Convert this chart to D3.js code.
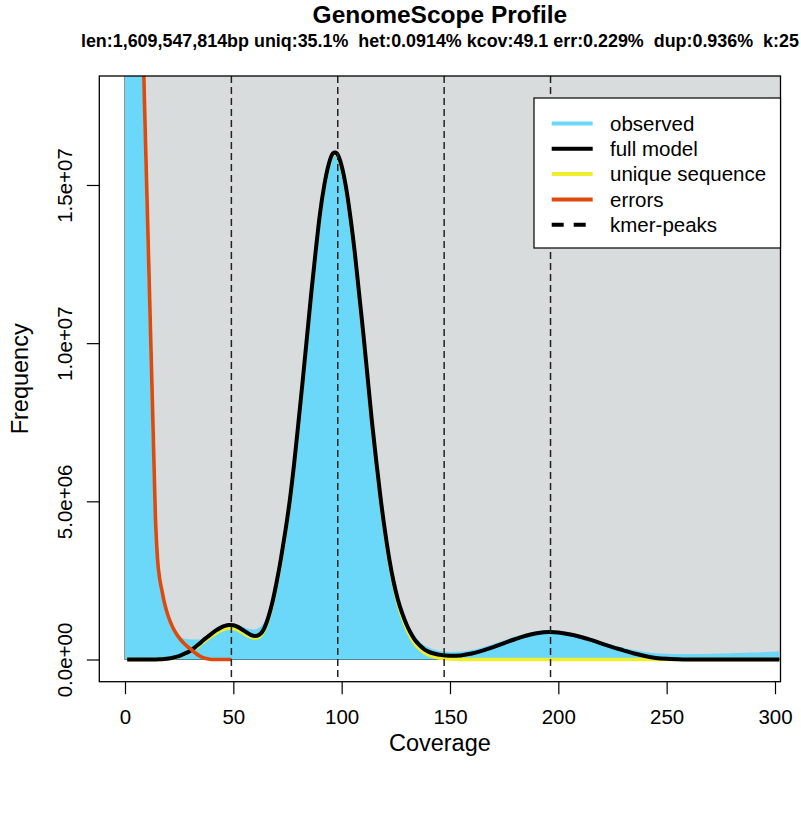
<!DOCTYPE html>
<html><head><meta charset="utf-8">
<script src="https://cdn.jsdelivr.net/npm/d3@7"></script>
<style>
body{margin:0;background:#fff;}
text{font-family:"Liberation Sans",Arial,Helvetica,sans-serif;fill:#000;}
</style></head><body>
<svg id="chart" width="801" height="820"></svg>
<script>
// ---------- data (frequencies in millions of k-mers) ----------
const titleText = "GenomeScope Profile";
const subtitleText = "len:1,609,547,814bp uniq:35.1%  het:0.0914% kcov:49.1 err:0.229%  dup:0.936%  k:25";
const xTicks = [0, 50, 100, 150, 200, 250, 300];
const yTicks = [0, 5, 10, 15];
const yTickLabels = ["0.0e+00", "5.0e+06", "1.0e+07", "1.5e+07"];
const kmerPeaks = [49.1, 98.2, 147.3, 196.4];
const legendLabels = ["observed", "full model", "unique sequence", "errors", "kmer-peaks"];

const obsCov = [0,1,2,3,4,5,6,7,8,9,10,11,12,13,14,15,16,17,18,19,20,22,24,26,28,30,32,34,36,38,40,42,44,46,48,50,52,54,56,58,60,62,64,66,68,70,72,74,76,78,80,82,84,86,88,90,92,94,96,97,98,100,102,104,106,108,110,112,114,116,118,120,122,124,126,128,130,132,134,136,138,140,143,146,150,155,160,165,170,175,180,185,190,196,200,205,210,215,220,225,230,235,240,245,250,255,260,270,280,290,302];
const obsFreq = [300,300,140,75,48,34,26.5,22,18.6,15.9,13.2,10.5,7.9,5.4,3.9,3.0,2.4,2.0,1.7,1.42,1.2,0.9,0.75,0.68,0.65,0.64,0.63,0.63,0.64,0.66,0.7,0.78,0.9,1.02,1.1,1.12,1.09,1.04,0.99,0.96,0.95,1.0,1.15,1.45,1.9,2.5,3.25,4.1,5.05,6.2,7.5,8.85,10.25,11.65,12.95,14.15,15.05,15.7,16.05,16.1,16.02,15.65,14.98,14.05,12.95,11.65,10.35,8.95,7.55,6.3,5.13,4.1,3.22,2.5,1.95,1.55,1.2,0.92,0.72,0.57,0.46,0.39,0.31,0.26,0.24,0.25,0.3,0.38,0.49,0.61,0.72,0.82,0.89,0.93,0.91,0.85,0.77,0.67,0.56,0.46,0.37,0.3,0.24,0.2,0.18,0.17,0.17,0.18,0.2,0.22,0.25];

const modelCov = [1,5,10,14,16,18,20,22,24,26,28,30,32,34,36,38,40,42,44,46,48,50,52,54,56,58,60,62,64,66,68,70,72,74,76,78,80,82,84,86,88,90,92,94,96,97,98,100,102,104,106,108,110,112,114,116,118,120,122,124,126,128,130,132,134,136,138,140,143,146,150,155,160,165,170,175,180,185,190,196,200,205,210,215,220,225,230,235,240,245,250,255,260,270,280,290,302];
const modelFreq = [0,0,0,0,0.005,0.015,0.03,0.055,0.09,0.14,0.2,0.27,0.37,0.48,0.6,0.71,0.82,0.92,1.0,1.06,1.09,1.08,1.03,0.95,0.86,0.78,0.74,0.78,0.95,1.3,1.8,2.45,3.2,4.05,5.0,6.15,7.45,8.8,10.2,11.6,12.9,14.1,15.0,15.65,16.0,16.03,15.98,15.6,14.93,14.0,12.9,11.6,10.3,8.9,7.5,6.25,5.08,4.06,3.17,2.45,1.88,1.45,1.1,0.82,0.6,0.45,0.33,0.25,0.18,0.14,0.12,0.13,0.19,0.28,0.39,0.52,0.64,0.75,0.83,0.87,0.855,0.8,0.72,0.62,0.5,0.39,0.29,0.19,0.11,0.05,0.02,0.006,0,0,0,0,0];
const uniqueFreq = [0,0,0,0,0.004,0.013,0.026,0.048,0.08,0.125,0.18,0.245,0.335,0.435,0.545,0.645,0.745,0.835,0.91,0.965,0.99,0.98,0.935,0.86,0.78,0.71,0.68,0.72,0.89,1.24,1.74,2.39,3.14,4.0,4.95,6.1,7.4,8.75,10.15,11.55,12.85,14.05,14.95,15.6,15.95,15.98,15.93,15.55,14.88,13.95,12.85,11.55,10.25,8.85,7.45,6.2,5.02,4.0,3.1,2.37,1.78,1.33,0.97,0.69,0.48,0.33,0.22,0.15,0.08,0.04,0.015,0.005,0,0,0,0,0,0,0,0,0,0,0,0,0,0,0,0,0,0,0,0,0,0,0,0,0];

const errCov = [1,2,3,4,5,6,7,8,9,10,11,12,13,14,15,16,17,18,19,20,22,24,26,28,30,32,34,36,38,40,45,49.1];
const errFreq = [300,150,90,60,42,31,24.5,20.5,17.6,15.0,12.4,9.8,7.2,4.6,3.2,2.55,2.2,1.85,1.58,1.36,1.02,0.78,0.6,0.46,0.34,0.23,0.13,0.06,0.02,0,0,0];

// ---------- layout ----------
const W = 801, H = 820;
const L = 99.3, R = 780.5, T = 76, B = 681.7;
const colObs = "#6BD7F9", colBg = "#D9DCDC", colUnique = "#EEEE2C", colErr = "#DE4A0C", colModel = "#000";
const font = '"Liberation Sans",Arial,Helvetica,sans-serif';

const xs = d3.scaleLinear().domain([-11.86, 302.54]).range([L, R]);
const ys = d3.scaleLinear().domain([-0.7018, 18.445]).range([B, T]);

const svg = d3.select("#chart");
svg.append("rect").attr("width", W).attr("height", H).attr("fill", "#fff");

svg.append("defs").append("clipPath").attr("id", "clip")
  .append("rect").attr("x", L).attr("y", T).attr("width", R - L).attr("height", B - T);

const g = svg.append("g").attr("clip-path", "url(#clip)");

// background rect starting at (0,0)
g.append("rect")
  .attr("x", xs(0)).attr("y", ys(25))
  .attr("width", xs(400) - xs(0)).attr("height", ys(0) - ys(25))
  .attr("fill", colBg).attr("stroke", "#333").attr("stroke-width", 1);

const obsData = obsCov.map((c, i) => [c, obsFreq[i]]);
g.append("path").datum(obsData)
  .attr("d", d3.area().x(d => xs(d[0])).y0(ys(0)).y1(d => ys(d[1])).curve(d3.curveMonotoneX))
  .attr("fill", colObs);

const lineGen = d3.line().x(d => xs(d[0])).y(d => ys(d[1])).curve(d3.curveMonotoneX);

g.append("path").datum(modelCov.map((c, i) => [c, uniqueFreq[i]]))
  .attr("d", lineGen).attr("fill", "none").attr("stroke", colUnique).attr("stroke-width", 3.6);

g.append("path").datum(modelCov.map((c, i) => [c, modelFreq[i]]))
  .attr("d", lineGen).attr("fill", "none").attr("stroke", colModel).attr("stroke-width", 4);

g.append("path").datum(errCov.map((c, i) => [c, errFreq[i]]))
  .attr("d", lineGen).attr("fill", "none").attr("stroke", colErr).attr("stroke-width", 3.6);

g.selectAll("line.peak").data(kmerPeaks).enter().append("line")
  .attr("class", "peak")
  .attr("x1", d => xs(d)).attr("x2", d => xs(d))
  .attr("y1", T).attr("y2", B)
  .attr("stroke", "#222").attr("stroke-width", 1.5).attr("stroke-dasharray", "7,4");

// box
svg.append("rect").attr("x", L).attr("y", T).attr("width", R - L).attr("height", B - T)
  .attr("fill", "none").attr("stroke", "#000").attr("stroke-width", 1.3);

// axes
const xAxis = svg.append("g").attr("transform", `translate(0,${B})`)
  .call(d3.axisBottom(xs).tickValues(xTicks).tickSize(12.5).tickSizeOuter(0));
xAxis.select(".domain").remove();
xAxis.selectAll(".tick line").attr("stroke", "#000").attr("stroke-width", 1.2);
xAxis.selectAll(".tick text").attr("y", 42.3).attr("dy", 0)
  .style("font-family", font).style("font-size", "20.5px").attr("fill", "#000");

const yAxis = svg.append("g").attr("transform", `translate(${L},0)`)
  .call(d3.axisLeft(ys).tickValues(yTicks).tickFormat((d, i) => yTickLabels[i]).tickSize(12.5).tickSizeOuter(0));
yAxis.select(".domain").remove();
yAxis.selectAll(".tick line").attr("stroke", "#000").attr("stroke-width", 1.2);
yAxis.selectAll(".tick text").attr("x", 0).attr("y", 0).attr("dy", 0)
  .attr("transform", "translate(-27.3,0) rotate(-90)").attr("text-anchor", "middle")
  .style("font-family", font).style("font-size", "20.5px").attr("fill", "#000");

// axis titles
svg.append("text").attr("x", (L + R) / 2).attr("y", 751).attr("text-anchor", "middle")
  .style("font-size", "23.5px").text("Coverage");
svg.append("text").attr("transform", `translate(28,${(T + B) / 2}) rotate(-90)`).attr("text-anchor", "middle")
  .style("font-size", "23.5px").text("Frequency");

// titles
svg.append("text").attr("x", (L + R) / 2).attr("y", 22.5).attr("text-anchor", "middle")
  .style("font-size", "24.5px").style("font-weight", "bold").text(titleText);
svg.append("text").attr("x", (L + R) / 2).attr("y", 46.5).attr("text-anchor", "middle")
  .style("font-size", "17.9px").style("font-weight", "bold").style("white-space", "pre")
  .attr("xml:space", "preserve").text(subtitleText);

// legend
const lg = svg.append("g");
lg.append("rect").attr("x", 534).attr("y", 98).attr("width", 780.5 - 534).attr("height", 150)
  .attr("fill", "#fff").attr("stroke", "#000").attr("stroke-width", 1.2);
const legColors = [colObs, colModel, colUnique, colErr, colModel];
const legDash = [null, null, null, null, "12,10"];
legendLabels.forEach((lab, i) => {
  const yy = 123.5 + i * 25.3;
  lg.append("line").attr("x1", 551.7).attr("x2", 592.7).attr("y1", yy).attr("y2", yy)
    .attr("stroke", legColors[i]).attr("stroke-width", 4).attr("stroke-dasharray", legDash[i]);
  lg.append("text").attr("x", 610).attr("y", yy).attr("dy", "0.35em")
    .style("font-size", "20.5px").text(lab);
});
</script>
</body></html>
